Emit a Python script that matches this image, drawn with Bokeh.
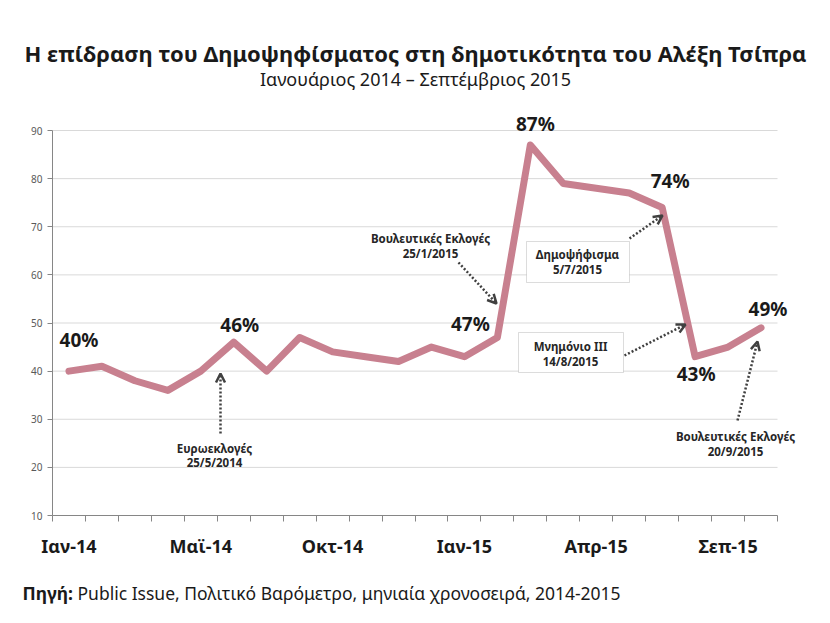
from bokeh.plotting import figure
from bokeh.models import Range1d, FixedTicker, Label, Arrow, OpenHead, BoxAnnotation, ColumnDataSource
from bokeh.layouts import column
from bokeh.core.properties import value
from bokeh.embed import file_html
from bokeh.resources import INLINE

# ---- data ----
categories = ["Ιαν-14", "Φεβ-14", "Μαρ-14", "Απρ-14", "Μαϊ-14", "Ιουν-14", "Ιουλ-14", "Σεπ-14",
              "Οκτ-14", "Νοε-14", "Δεκ-14", "Δεκ-14β", "Ιαν-15", "Ιαν-15β", "Φεβ-15", "Μαρ-15",
              "Απρ-15", "Μαϊ-15", "Ιουν-15", "Αυγ-15", "Σεπ-15", "Σεπ-15β"]
values = [40, 41, 38, 36, 40, 46, 40, 47, 44, 43, 42, 45, 43, 47, 87, 79, 78, 77, 74, 43, 45, 49]
shown_ticks = [0, 4, 8, 12, 16, 20]
labelled_points = [0, 5, 13, 14, 18, 19, 21]
y_ticks = [10, 20, 30, 40, 50, 60, 70, 80, 90]

title_text = "Η επίδραση του Δημοψηφίσματος στη δημοτικότητα του Αλέξη Τσίπρα"
subtitle_text = "Ιανουάριος 2014 – Σεπτέμβριος 2015"
source_bold = "Πηγή:"
source_text = "Public Issue, Πολιτικό Βαρόμετρο, μηνιαία χρονοσειρά, 2014-2015"

FONT = "Noto Sans"
LINE_COLOR = "#C8808F"
TEXT_COLOR = "#1a1a1a"

W = 830
HEADER_H = 100
MAIN_H = 470
FOOTER_H = 50
LEFT_B = 52
RIGHT_B = 2

# frame geometry on the page: x 52..777 covers the 22 categories, y 515..130 covers 10..90
PX_PER_X = 725 / 22
PX_PER_Y = 385 / 80

def dx(px):
    return -0.5 + (px - 52) / PX_PER_X

def dy(py):
    return 10 + (515 - py) / PX_PER_Y

def bare(fig):
    fig.axis.visible = False
    fig.grid.grid_line_color = None
    fig.outline_line_color = None
    fig.background_fill_color = "white"
    fig.border_fill_color = "white"

# ---- header (coordinates = page pixels) ----
hdr = figure(width=W, height=HEADER_H, output_backend="svg", toolbar_location=None,
             x_range=Range1d(0, W), y_range=Range1d(HEADER_H, 0), frame_align=False,
             min_border_left=0, min_border_right=0, min_border_top=0, min_border_bottom=0)
bare(hdr)
hdr.text(x=[415], y=[52], text=[title_text], text_font=value(FONT), text_font_style="bold",
         text_font_size="22px", text_color=TEXT_COLOR, text_align="center", text_baseline="middle")
hdr.text(x=[415], y=[78], text=[subtitle_text], text_font=value(FONT),
         text_font_size="18px", text_color=TEXT_COLOR, text_align="center", text_baseline="middle")

# ---- main chart ----
p = figure(width=W, height=MAIN_H, output_backend="svg", toolbar_location=None,
           x_range=Range1d(-0.5, dx(W - RIGHT_B)), y_range=Range1d(10, dy(HEADER_H)),
           min_border_left=LEFT_B, min_border_right=RIGHT_B, min_border_top=0,
           min_border_bottom=MAIN_H - (515 - HEADER_H))
p.outline_line_color = None
p.background_fill_color = "white"
p.border_fill_color = "white"
p.xgrid.grid_line_color = None
p.ygrid.grid_line_color = None

n = len(values)
# horizontal gridlines across the category span
p.segment(x0=[-0.5] * len(y_ticks), x1=[n - 0.5] * len(y_ticks), y0=y_ticks, y1=y_ticks,
          line_color="#D9D9D9", line_width=1, level="underlay")

# y axis
ya = p.yaxis[0]
ya.ticker = FixedTicker(ticks=y_ticks)
ya.bounds = (y_ticks[0], y_ticks[-1])
ya.axis_line_color = "#868686"
ya.major_tick_line_color = "#868686"
ya.major_tick_out = 5
ya.major_tick_in = 0
ya.minor_tick_line_color = None
ya.major_label_text_color = "#595959"
ya.major_label_text_font = FONT
ya.major_label_text_font_size = "10px"
ya.major_label_standoff = 5

# x axis
xa = p.xaxis[0]
xa.ticker = FixedTicker(ticks=shown_ticks, minor_ticks=[i - 0.5 for i in range(n + 1)])
xa.bounds = (-0.5, n - 0.5)
xa.major_label_overrides = {i: categories[i] for i in shown_ticks}
xa.axis_line_color = "#868686"
xa.major_tick_line_color = None
xa.major_tick_out = 0
xa.major_tick_in = 0
xa.minor_tick_line_color = "#868686"
xa.minor_tick_out = 6
xa.minor_tick_in = 0
xa.major_label_text_font = FONT
xa.major_label_text_font_style = "bold"
xa.major_label_text_font_size = "18px"
xa.major_label_text_color = TEXT_COLOR
xa.major_label_standoff = 12

# main line
xs = list(range(n))
p.line(xs, values, line_color=LINE_COLOR, line_width=7, line_join="round", line_cap="round")

# data labels
offsets = {0: (10, -31), 5: (6, -17), 13: (-27, -13), 14: (5, -21), 18: (8, -27), 19: (1, 17), 21: (7, -19)}
lab_src = ColumnDataSource(dict(
    x=[xs[i] for i in labelled_points],
    y=[values[i] for i in labelled_points],
    t=[f"{values[i]}%" for i in labelled_points],
    xo=[offsets[i][0] for i in labelled_points],
    yo=[offsets[i][1] for i in labelled_points],
))
p.text(x="x", y="y", text="t", x_offset="xo", y_offset="yo", source=lab_src,
       text_font=value(FONT), text_font_style="bold", text_font_size="19px",
       text_color=TEXT_COLOR, text_align="center", text_baseline="middle")

# annotation boxes
for (l, r, t, b) in [(526, 629, 241, 282), (518, 623, 332, 372)]:
    p.add_layout(BoxAnnotation(left=dx(l), right=dx(r), top=dy(t), bottom=dy(b),
                               fill_color="white", fill_alpha=1.0,
                               line_color="#8C8C8C", line_width=1, level="annotation"))

def note(px, py, txt, size="11.5px"):
    p.add_layout(Label(x=dx(px), y=dy(py), text=txt, text_font=FONT,
                       text_font_style="bold", text_font_size=size, text_color="#262626",
                       text_align="center", text_baseline="middle", level="annotation"))

note(214, 448, "Ευρωεκλογές")
note(214, 462, "25/5/2014")
note(430, 238, "Βουλευτικές Εκλογές")
note(430, 253, "25/1/2015")
note(577, 254, "Δημοψήφισμα")
note(577, 269, "5/7/2015")
note(570, 346, "Μνημόνιο ΙΙΙ")
note(570, 361, "14/8/2015")
note(735, 436, "Βουλευτικές Εκλογές")
note(735, 451, "20/9/2015")

# arrows
for (x0, y0, x1, y1) in [(220, 433, 220, 373), (458, 262, 496, 303), (629, 238, 662, 215),
                         (624, 355, 685, 324), (737, 420, 757, 341)]:
    p.add_layout(Arrow(x_start=dx(x0), y_start=dy(y0), x_end=dx(x1), y_end=dy(y1),
                       line_color="#404040", line_width=2.5, line_dash="2 2",
                       end=OpenHead(size=9, line_color="#404040", line_width=2.5)))

# ---- footer (coordinates = page pixels, y relative to footer top) ----
FOOT_TOP = HEADER_H + MAIN_H
ftr = figure(width=W, height=FOOTER_H, output_backend="svg", toolbar_location=None,
             x_range=Range1d(0, W), y_range=Range1d(FOOTER_H, 0), frame_align=False,
             min_border_left=0, min_border_right=0, min_border_top=0, min_border_bottom=0)
bare(ftr)
ftr.text(x=[22], y=[592 - FOOT_TOP], text=[source_bold], text_font=value(FONT), text_font_style="bold",
         text_font_size="17.5px", text_color=TEXT_COLOR, text_align="left", text_baseline="middle")
ftr.text(x=[77], y=[592 - FOOT_TOP], text=[source_text], text_font=value(FONT),
         text_font_size="17.5px", text_color=TEXT_COLOR, text_align="left", text_baseline="middle")

layout = column(hdr, p, ftr, spacing=0)
open("out.html", "w").write(file_html(layout, INLINE))
